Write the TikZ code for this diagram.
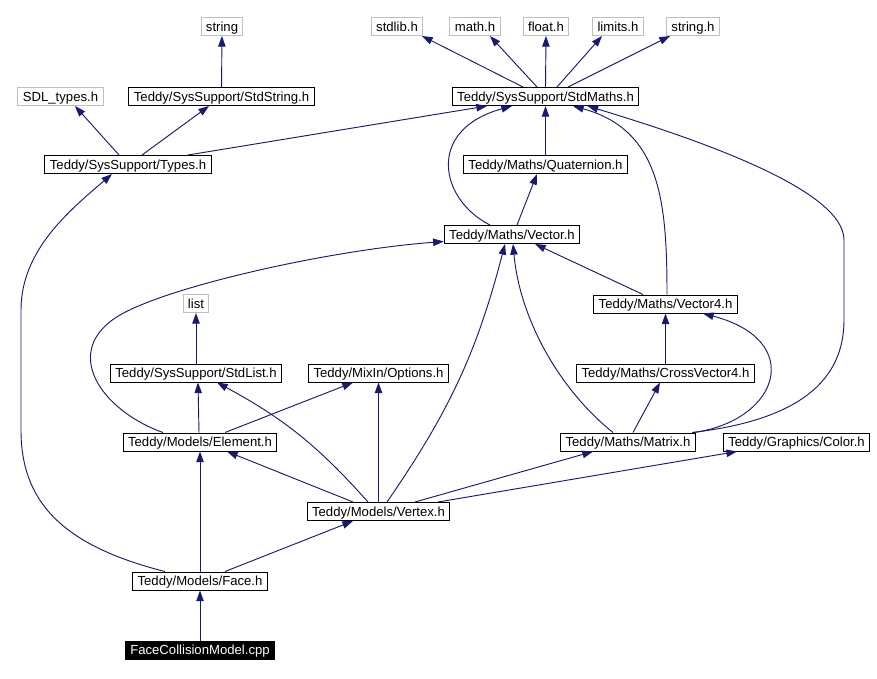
\documentclass[tikz,border=0pt]{standalone}
\usepackage{fontspec}
\setmainfont{Liberation Sans}
\usepackage{tikz}
\usetikzlibrary{arrows.meta,calc}
\definecolor{edgeblue}{RGB}{25,25,112}
\definecolor{sysgray}{RGB}{191,191,191}
\tikzset{header/.style={draw=black, line width=0.75pt, fill=white, inner xsep=3.7pt, inner ysep=1.7pt, text height=8.5pt, text depth=1.6pt, font=\fontsize{9.85}{11}\selectfont}}
\tikzset{syshdr/.style={header, draw=sysgray}}
\tikzset{srcfile/.style={header, fill=black, text=white}}
\tikzset{incl/.style={-{Triangle[length=8pt,width=5.6pt]}, line width=0.7pt, color=edgeblue}}

\begin{document}
\begin{tikzpicture}[x=0.75pt, y=-0.75pt]
  \fill[white] (0,0) rectangle (877,678);
  \useasboundingbox (0,0) rectangle (877,678);

  % Cabeceras del sistema
  \node[syshdr] (string) at (222,26.5) {string};
  \node[syshdr] (stdlib) at (397,26.5) {stdlib.h};
  \node[syshdr] (math) at (475,26.5) {math.h};
  \node[syshdr] (float) at (546,26.5) {float.h};
  \node[syshdr] (limits) at (618,26.5) {limits.h};
  \node[syshdr] (stringh) at (693,26.5) {string.h};
  \node[syshdr] (sdltypes) at (60.5,96.5) {SDL\_types.h};
  \node[syshdr] (list) at (196,303.5) {list};

  % Cabeceras de Teddy
  \node[header] (stdstring) at (221.5,96.5) {Teddy/SysSupport/StdString.h};
  \node[header] (stdmaths) at (545.5,96.5) {Teddy/SysSupport/StdMaths.h};
  \node[header] (types) at (128,164.5) {Teddy/SysSupport/Types.h};
  \node[header] (quaternion) at (545.5,164.5) {Teddy/Maths/Quaternion.h};
  \node[header] (vector) at (512,234.5) {Teddy/Maths/Vector.h};
  \node[header] (vectorfour) at (665.5,304) {Teddy/Maths/Vector4.h};
  \node[header] (stdlist) at (196,373) {Teddy/SysSupport/StdList.h};
  \node[header] (options) at (378.5,373) {Teddy/MixIn/Options.h};
  \node[header] (crossvec) at (665.5,373) {Teddy/Maths/CrossVector4.h};
  \node[header] (element) at (200,442) {Teddy/Models/Element.h};
  \node[header] (matrix) at (628,442) {Teddy/Maths/Matrix.h};
  \node[header] (color) at (796.5,442) {Teddy/Graphics/Color.h};
  \node[header] (vertex) at (378.5,511.5) {Teddy/Models/Vertex.h};
  \node[header] (face) at (200,581) {Teddy/Models/Face.h};
  \node[srcfile] (fcm) at (200,650) {FaceCollisionModel.cpp};

  % Includes de StdMaths y StdString
  \draw[incl] (stdstring) -- (string);
  \draw[incl] ($(stdmaths.north)+(-22.5,0)$) -- ($(stdlib.south)+(25,0)$);
  \draw[incl] ($(stdmaths.north)+(-8.5,0)$) -- ($(math.south)+(15,0)$);
  \draw[incl] (stdmaths.north) -- (float.south);
  \draw[incl] ($(stdmaths.north)+(11.5,0)$) -- ($(limits.south)+(-16,0)$);
  \draw[incl] ($(stdmaths.north)+(22.5,0)$) -- ($(stringh.south)+(-23,0)$);

  % Includes de Types
  \draw[incl] ($(types.north)+(-9,0)$) -- ($(sdltypes.south)+(14.5,0)$);
  \draw[incl] ($(types.north)+(14,0)$) -- ($(stdstring.south)+(-12.5,0)$);
  \draw[incl] ($(types.north)+(60,0)$) -- ($(stdmaths.south)+(-58.5,0)$);

  % Includes de la parte Maths
  \draw[incl] (quaternion) -- (stdmaths);
  \draw[incl] ($(vector.north)+(5,0)$) -- ($(quaternion.south)+(-8.5,0)$);
  \draw[incl] ($(vector.north)+(-22,0)$) .. controls (440,200) and (425,130) .. ($(stdmaths.south)+(-33.5,0)$);
  \draw[incl] ($(vectorfour.north)+(1.5,0)$) .. controls (667,200) and (660,130) .. ($(stdmaths.south)+(27.5,0)$);
  \draw[incl] ($(vectorfour.north)+(-22.5,0)$) -- ($(vector.south)+(23,0)$);
  \draw[incl] (crossvec) -- (vectorfour);
  \draw[incl] ($(matrix.north)+(5,0)$) -- ($(crossvec.south)+(-5.5,0)$);
  \draw[incl] ($(matrix.north)+(-15,0)$) .. controls (560,390) and (520,320) .. ($(vector.south)+(1,0)$);
  \draw[incl] ($(matrix.north)+(66,0)$) .. controls (780,420) and (805,340) .. ($(vectorfour.south)+(37.5,0)$);
  \draw[incl] ($(matrix.north)+(64,0)$) .. controls (800,420) and (844,380) .. (844,320) -- (844,240) .. controls (844,190) and (700,140) .. ($(stdmaths.south)+(42,0)$);

  % Includes de Element y StdList
  \draw[incl] (stdlist) -- (list);
  \draw[incl] ($(element.north)+(-1,0)$) -- ($(stdlist.south)+(2,0)$);
  \draw[incl] ($(element.north)+(25,0)$) -- ($(options.south)+(-25.5,0)$);
  \draw[incl] ($(element.north)+(-37,0)$) .. controls (100,410) and (60,350) .. (120,315) .. controls (170,286) and (330,250) .. ($(vector.west)+(0,7)$);

  % Includes de Vertex
  \draw[incl] ($(vertex.north)+(-10.5,0)$) to[bend right=10] ($(stdlist.south)+(21,0)$);
  \draw[incl] (vertex) -- (options);
  \draw[incl] ($(vertex.north)+(8.5,0)$) to[bend right=10] ($(vector.south)+(-7,0)$);
  \draw[incl] ($(vertex.north)+(-25.5,0)$) -- ($(element.south)+(27,0)$);
  \draw[incl] ($(vertex.north)+(36.5,0)$) -- ($(matrix.south)+(-35,0)$);
  \draw[incl] ($(vertex.north)+(59.5,0)$) -- ($(color.south)+(-59.5,0)$);

  % Includes de Face y del fichero fuente
  \draw[incl] ($(face.north)+(-35,0)$) .. controls (60,545) and (21,500) .. (21,430) -- (21,310) .. controls (21,250) and (70,210) .. ($(types.south)+(-16,0)$);
  \draw[incl] (face) -- (element);
  \draw[incl] ($(face.north)+(25,0)$) -- ($(vertex.south)+(-25.5,0)$);
  \draw[incl] (fcm) -- (face);
\end{tikzpicture}
\end{document}
